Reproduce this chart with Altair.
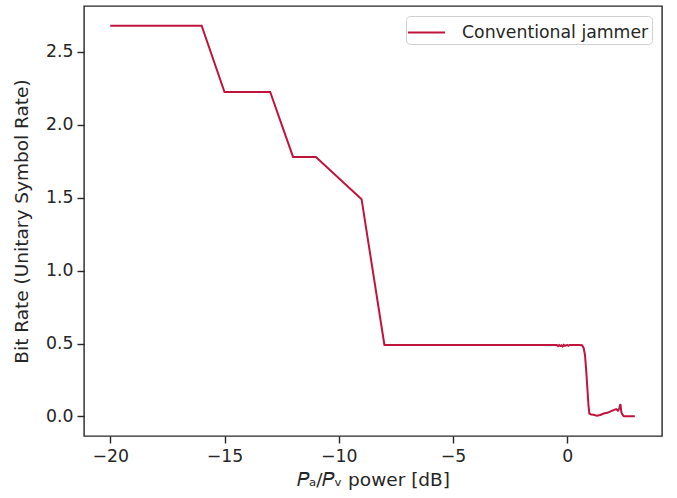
import altair as alt
import pandas as pd

power_db = [-20, -16, -15, -13, -12, -11, -9, -8,
            -0.45, -0.4, -0.35, -0.3, -0.25, -0.2, -0.15, -0.1, -0.05, 0.0, 0.05, 0.1, 0.2, 0.3, 0.5, 0.65,
            0.72, 0.78, 0.83, 0.88, 0.93, 0.97, 1.05, 1.15, 1.3, 1.45, 1.6, 1.75, 1.9, 2.05, 2.15, 2.22, 2.28,
            2.33, 2.37, 2.42, 2.48, 2.6, 2.8, 2.96]
bit_rate = [2.68, 2.68, 2.225, 2.225, 1.78, 1.78, 1.49, 0.49,
            0.49, 0.482, 0.49, 0.483, 0.488, 0.48, 0.49, 0.484, 0.489, 0.49, 0.485, 0.49, 0.49, 0.49, 0.49, 0.488,
            0.47, 0.42, 0.32, 0.2, 0.08, 0.02, 0.014, 0.012, 0.005, 0.01, 0.02, 0.025, 0.035, 0.045, 0.05, 0.04, 0.055,
            0.085, 0.03, 0.012, 0.002, 0.002, 0.002, 0.002]
series = ["Conventional jammer"] * len(power_db)

df = pd.DataFrame({"x": power_db, "y": bit_rate, "series": series})

font = "DejaVu Sans"
chart = alt.Chart(df).mark_line(strokeWidth=2).encode(
    x=alt.X("x:Q", title="𝑃ₐ/𝑃ᵥ power [dB]",
            scale=alt.Scale(domain=[-21.15, 4.15], nice=False, zero=False),
            axis=alt.Axis(values=[-20, -15, -10, -5, 0], format="d")),
    y=alt.Y("y:Q", title="Bit Rate (Unitary Symbol Rate)",
            scale=alt.Scale(domain=[-0.134, 2.815], nice=False, zero=False),
            axis=alt.Axis(values=[0, 0.5, 1.0, 1.5, 2.0, 2.5], format=".1f")),
    color=alt.Color("series:N", title=None,
                    scale=alt.Scale(range=["#c0143c"]),
                    legend=alt.Legend(orient="top-right", offset=10,
                                      symbolType="M-1.16,0H1.8",
                                      symbolStrokeWidth=2, symbolSize=625,
                                      labelFontSize=17.3, labelFont=font, labelColor="#262626",
                                      labelLimit=0, labelExpr="datum.label + '\u00a0\u00a0\u00a0'",
                                      fillColor="white", strokeColor="#d0d0d0", cornerRadius=4,
                                      padding=3, labelOffset=26)),
).properties(
    width=578, height=430,
    autosize=alt.AutoSizeParams(type="none"),
    padding={"left": 84, "top": 6, "right": 15, "bottom": 62},
).configure_view(
    stroke="#262626", strokeWidth=1.4
).configure_axis(
    grid=False, domain=False, tickColor="#262626", tickSize=7, tickWidth=1.4,
    labelFont=font, labelFontSize=17.3, labelColor="#262626", labelPadding=4,
    titleFont=font, titleFontSize=18.5, titleColor="#262626", titleFontWeight="normal",
).configure_axisX(
    titlePadding=6
).configure_axisY(
    titlePadding=14
)

chart.save("out.html", embed_options={"renderer": "svg", "actions": False})
